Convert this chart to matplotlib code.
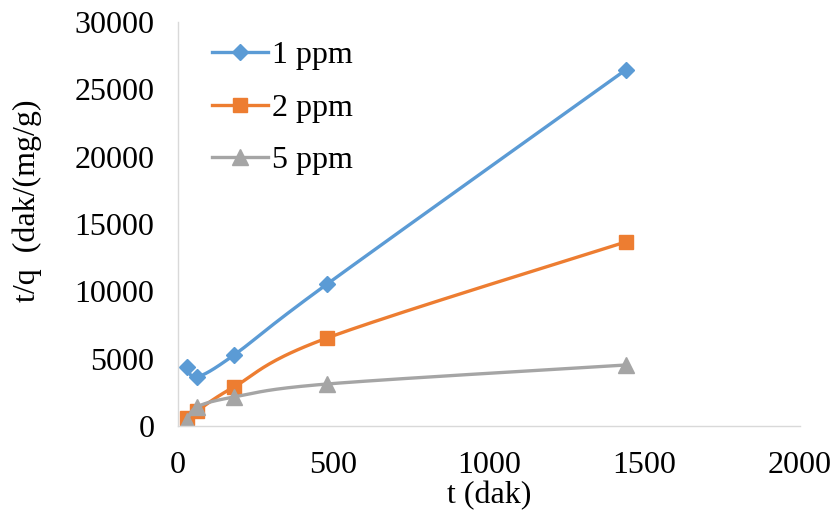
import numpy as np
import matplotlib
matplotlib.use("Agg")
import matplotlib.pyplot as plt

# ----------------------------------------------------------
# data
# ----------------------------------------------------------
t_min = [30, 60, 180, 480, 1440]
q_1ppm = [4380, 3640, 5270, 10550, 26450]
q_2ppm = [600, 1100, 2900, 6540, 13670]
q_5ppm = [370, 1400, 2150, 3120, 4530]

series_names = ["1 ppm", "2 ppm", "5 ppm"]
colors = ["#5B9BD5", "#ED7D31", "#A5A5A5"]
markers = ["D", "s", "^"]
marker_sizes = [8, 10.5, 11]


def smooth_curve(x, y, n=40):
    """Excel-like smoothed line: Catmull-Rom Bezier through the points."""
    x = np.asarray(x, float)
    y = np.asarray(y, float)
    px = np.concatenate([[x[0]], x, [x[-1]]])
    py = np.concatenate([[y[0]], y, [y[-1]]])
    xs, ys = [], []
    k = 1.0 / 6.0
    for i in range(1, len(px) - 2):
        p0 = np.array([px[i], py[i]])
        p3 = np.array([px[i + 1], py[i + 1]])
        c1 = p0 + k * (np.array([px[i + 1], py[i + 1]]) - np.array([px[i - 1], py[i - 1]]))
        c2 = p3 - k * (np.array([px[i + 2], py[i + 2]]) - np.array([px[i], py[i]]))
        s = np.linspace(0, 1, n)[:, None]
        pts = ((1 - s) ** 3) * p0 + 3 * ((1 - s) ** 2) * s * c1 + 3 * (1 - s) * s ** 2 * c2 + s ** 3 * p3
        xs.extend(pts[:, 0])
        ys.extend(pts[:, 1])
    return np.array(xs), np.array(ys)


plt.rcParams["font.family"] = ["Liberation Serif", "DejaVu Serif"]
FS = 23

fig = plt.figure(figsize=(8.34, 5.17), dpi=100)
# plot area: x 178..800 px, y 22..426 px
ax = fig.add_axes([178 / 834, 91 / 517, 622 / 834, 404 / 517])

for name, q, c, m, ms in zip(series_names, [q_1ppm, q_2ppm, q_5ppm], colors, markers, marker_sizes):
    sx, sy = smooth_curve(t_min, q)
    ax.plot(sx, sy, color=c, lw=2.4, solid_capstyle="round")
    ax.plot(t_min, q, linestyle="none", marker=m, color=c, ms=ms)
    # legend proxy
    ax.plot([], [], color=c, lw=2.4, marker=m, ms=ms, label=name)

ax.set_xlim(0, 2000)
ax.set_ylim(0, 30000)
ax.set_xticks([0, 500, 1000, 1500, 2000])
ax.set_yticks(np.arange(0, 30001, 5000))
ax.tick_params(axis="y", length=0, labelsize=FS, pad=17)
ax.tick_params(axis="x", length=0, labelsize=FS, pad=18)

for side in ["top", "right"]:
    ax.spines[side].set_visible(False)
for side in ["left", "bottom"]:
    ax.spines[side].set_color("#D9D9D9")
    ax.spines[side].set_linewidth(1.0)

ax.set_xlabel("t (dak)", fontsize=FS, labelpad=1)
ax.set_ylabel("t/q  (dak/(mg/g)", fontsize=FS)
ax.yaxis.label.set_va("center")
ax.yaxis.set_label_coords(-0.243, 0.557)

fig.legend(loc="upper left", bbox_to_anchor=(212 / 834, 1 - 41 / 517), frameon=False,
           fontsize=FS, handlelength=1.75, handletextpad=0.12, labelspacing=0.72,
           borderpad=0, borderaxespad=0)

fig.savefig("out.png", dpi=100)
